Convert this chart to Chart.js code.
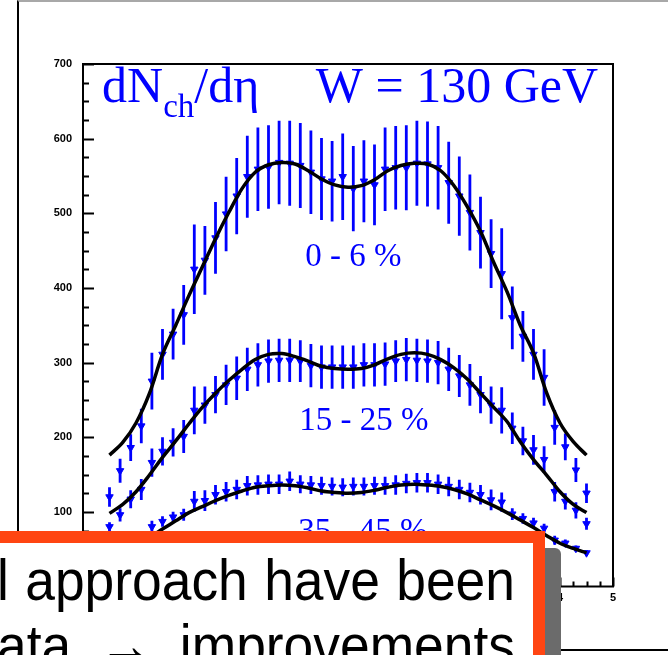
<!DOCTYPE html>
<html>
<head>
<meta charset="utf-8">
<script src="https://cdn.jsdelivr.net/npm/chart.js@4.4.0/dist/chart.umd.min.js"></script>
<style>
  html, body { margin: 0; padding: 0; background: #fff; overflow: hidden; }
  #wrap { position: relative; width: 668px; height: 655px; overflow: hidden; }
  #chart { position: absolute; left: 0; top: 0; }
  #border { position: absolute; left: 17px; top: 0; width: 700px; height: 651px; box-sizing: border-box;
            border-left: 2px solid #000; border-top: 2px solid #a8a8a8; border-bottom: 2px solid #000; }
  #shadow { position: absolute; left: -30px; top: 548px; width: 591px; height: 200px; background: #6b6b6b; border-radius: 6px; }
  #note { position: absolute; left: -30px; top: 531px; width: 575px; height: 200px; box-sizing: border-box;
          border: 12px solid #ff4512; background: #fff; overflow: hidden; }
  .line { position: absolute; left: 15px; width: 563px; font-family: "Liberation Sans", Arial, sans-serif;
          font-size: 58px; line-height: 58px; white-space: nowrap; text-align: justify; text-align-last: justify;
          transform-origin: left top; transform: scaleX(0.92); color: #000; }
</style>
</head>
<body>
<div id="wrap">
  <div id="border"></div>
  <canvas id="chart" width="668" height="655"></canvas>
  <div id="shadow"></div>
  <div id="note">
    <div class="line" style="top:8px">l approach have been</div>
    <div class="line" style="top:73px">ata &rarr; improvements</div>
  </div>
</div>
<script>
"use strict";

const blue = "#0000ff";

// pseudorapidity bin centres
const eta = [-4.5, -4.3, -4.1, -3.9, -3.7, -3.5, -3.3, -3.1, -2.9, -2.7, -2.5, -2.3, -2.1, -1.9, -1.7, -1.5,
  -1.3, -1.1, -0.9, -0.7, -0.5, -0.3, -0.1, 0.1, 0.3, 0.5, 0.7, 0.9, 1.1, 1.3, 1.5, 1.7, 1.9, 2.1, 2.3,
  2.5, 2.7, 2.9, 3.1, 3.3, 3.5, 3.7, 3.9, 4.1, 4.3, 4.5];

// dN/deta, 0-6 % centrality
const cent0to6 = [120, 155, 186, 215, 275, 311, 338, 364, 425, 437, 467, 499, 523, 549, 559, 562,
  568, 567, 564, 555, 546, 543, 549, 533, 543, 538, 559, 561, 561, 567, 566, 561, 541, 523, 501,
  474, 446, 419, 360, 335, 311, 280, 213, 187, 156, 125];
const err0to6 = [13, 16, 18, 23, 38, 34, 34, 40, 60, 46, 48, 50, 51, 55, 56, 56,
  56, 57, 57, 56, 55, 54, 58, 57, 55, 54, 56, 56, 57, 57, 57, 56, 55, 53, 51,
  48, 46, 61, 42, 34, 34, 38, 23, 18, 16, 13];

// dN/deta, 15-25 % centrality
const cent15to25 = [80, 96, 117, 130, 166, 181, 193, 201, 236, 243, 257, 270, 279, 291, 297, 302,
  303, 303, 302, 296, 294, 294, 294, 294, 297, 297, 298, 302, 304, 303, 302, 300, 291, 282, 270,
  257, 243, 236, 212, 195, 183, 170, 127, 114, 102, 84];
const err15to25 = [6, 9, 12, 14, 19, 19, 19, 22, 32, 25, 25, 27, 29, 29, 29, 29,
  29, 29, 28, 29, 29, 29, 29, 29, 29, 29, 29, 28, 29, 29, 29, 29, 29, 28, 28,
  25, 25, 31, 21, 19, 20, 18, 13, 11, 11, 8];

// dN/deta, 35-45 % centrality
const cent35to45 = [45, 51, 58, 62, 80, 87, 93, 96, 114, 115, 123, 127, 130, 135, 136, 137,
  137, 141, 137, 136, 135, 134, 133, 134, 134, 135, 135, 136, 138, 139, 139, 137, 134, 130, 126,
  123, 116, 113, 97, 91, 85, 78, 62, 58, 51, 45];
const err35to45 = [4, 4, 5, 6, 8, 7, 7, 8, 14, 14, 13, 13, 13, 13, 13, 13,
  13, 13, 12, 12, 12, 12, 12, 12, 12, 12, 12, 13, 13, 13, 13, 13, 13, 13, 13,
  13, 14, 13, 8, 7, 7, 6, 6, 5, 4, 4];

// fitted curves, sampled every quarter unit of eta
const fitEta = [-4.5, -4.25, -4.0, -3.75, -3.5, -3.25, -3.0, -2.75, -2.5, -2.25, -2.0, -1.75, -1.5,
  -1.25, -1.0, -0.75, -0.5, -0.25, 0, 0.25, 0.5, 0.75, 1.0, 1.25, 1.5, 1.75, 2.0, 2.25, 2.5,
  2.75, 3.0, 3.25, 3.5, 3.75, 4.0, 4.25, 4.5];
const fit0to6 = [176, 193, 219, 258, 311, 350, 390, 428, 466, 501, 533, 555, 565,
  568, 566, 557, 546, 538, 535, 537, 545, 557, 564, 567, 566, 557, 537, 509, 476,
  434, 395, 350, 313, 259, 219, 194, 176];
const fit15to25 = [98, 110, 127, 149, 173, 195, 218, 240, 259, 276, 291, 304, 311,
  312, 308, 302, 295, 292, 291, 292, 297, 305, 311, 313, 311, 304, 293, 278, 259,
  240, 221, 194, 170, 149, 127, 110, 99];
const fit35to45 = [45, 50, 57, 66, 77, 88, 99, 107, 115, 122, 128, 133, 135,
  136, 135, 132, 128, 126, 125, 126, 129, 133, 136, 137, 136, 134, 130, 124, 116,
  108, 99, 89, 79, 68, 58, 51, 45];

// axis ranges
const etaRange = [-5, 5];
const yRange = [0, 700];

// in-plot labels: [text, eta, value]
const classLabels = [
  ["0 - 6 %", 0.1, 429],
  ["15 - 25 %", 0.3, 210],
  ["35 - 45 %", 0.28, 61]
];
const titleLeft = [-4.64, 649];
const titleRight = [4.72, 649];

function toXY(xs, ys) {
  return xs.map((v, i) => ({ x: v, y: ys[i] }));
}

function pointSet(label, values, errors) {
  return {
    label: label,
    data: toXY(eta, values),
    errors: errors,
    showLine: false,
    pointStyle: "triangle",
    rotation: 180,
    pointRadius: 4.3,
    backgroundColor: blue,
    borderColor: blue,
    borderWidth: 1,
    order: 1
  };
}

function fitSet(label, values) {
  return {
    label: label,
    data: toXY(fitEta, values),
    showLine: true,
    pointRadius: 0,
    borderColor: "#000",
    borderWidth: 3.5,
    tension: 0.35,
    fill: false,
    order: 0
  };
}

// vertical error bars under the markers
const errorBars = {
  id: "errorBars",
  beforeDatasetsDraw(chart) {
    const { ctx, chartArea, scales: { x, y } } = chart;
    ctx.save();
    ctx.beginPath();
    ctx.rect(chartArea.left, chartArea.top, chartArea.width, chartArea.height);
    ctx.clip();
    ctx.strokeStyle = blue;
    ctx.lineWidth = 2.8;
    chart.data.datasets.forEach(ds => {
      if (!ds.errors) return;
      ds.data.forEach((p, i) => {
        const px = x.getPixelForValue(p.x);
        ctx.beginPath();
        ctx.moveTo(px, y.getPixelForValue(p.y - ds.errors[i]));
        ctx.lineTo(px, y.getPixelForValue(p.y + ds.errors[i]));
        ctx.stroke();
      });
    });
    ctx.restore();
  }
};

// frame with inward ticks, plus the text inside the plot
const frameAndText = {
  id: "frameAndText",
  afterDatasetsDraw(chart) {
    const { ctx, chartArea: a, scales: { x, y } } = chart;
    ctx.save();
    ctx.strokeStyle = "#000";
    ctx.lineWidth = 2;
    ctx.strokeRect(a.left, a.top, a.right - a.left, a.bottom - a.top);

    ctx.beginPath();
    for (let v = yRange[0]; v <= yRange[1]; v += 25) {
      const py = Math.round(y.getPixelForValue(v)) + 0.5;
      const len = v % 100 === 0 ? 11 : 6;
      ctx.moveTo(a.left, py);
      ctx.lineTo(a.left + len, py);
    }
    for (let k = 0; k <= 40; k++) {
      const v = etaRange[0] + k * 0.25;
      const px = Math.round(x.getPixelForValue(v)) + 0.5;
      const len = k % 4 === 0 ? 9 : 5;
      ctx.moveTo(px, a.bottom);
      ctx.lineTo(px, a.bottom - len);
    }
    ctx.stroke();

    ctx.fillStyle = blue;
    ctx.textBaseline = "alphabetic";

    // dN_ch/deta
    let tx = x.getPixelForValue(titleLeft[0]);
    const ty = y.getPixelForValue(titleLeft[1]);
    ctx.textAlign = "left";
    ctx.font = '50px "Liberation Serif"';
    ctx.fillText("dN", tx, ty);
    tx += ctx.measureText("dN").width;
    ctx.font = '33px "Liberation Serif"';
    ctx.fillText("ch", tx, ty + 15);
    tx += ctx.measureText("ch").width;
    ctx.font = '50px "Liberation Serif"';
    ctx.fillText("/dη", tx, ty);

    ctx.textAlign = "right";
    ctx.fillText("W = 130 GeV", x.getPixelForValue(titleRight[0]), y.getPixelForValue(titleRight[1]));

    ctx.textAlign = "center";
    ctx.font = '33px "Liberation Serif"';
    classLabels.forEach(([t, e, v]) => {
      ctx.fillText(t, x.getPixelForValue(e), y.getPixelForValue(v));
    });
    ctx.restore();
  }
};

const tickFont = { family: '"Liberation Sans", Arial, sans-serif', weight: "bold", size: 11 };

new Chart(document.getElementById("chart"), {
  type: "scatter",
  data: {
    datasets: [
      pointSet("0-6%", cent0to6, err0to6),
      pointSet("15-25%", cent15to25, err15to25),
      pointSet("35-45%", cent35to45, err35to45),
      fitSet("fit 0-6%", fit0to6),
      fitSet("fit 15-25%", fit15to25),
      fitSet("fit 35-45%", fit35to45)
    ]
  },
  options: {
    responsive: false,
    animation: false,
    events: [],
    layout: { padding: { top: 64, right: 55, bottom: 38.5, left: 0 } },
    plugins: { legend: { display: false }, tooltip: { enabled: false } },
    scales: {
      x: {
        type: "linear",
        min: etaRange[0],
        max: etaRange[1],
        afterFit: s => { s.height = 30; },
        grid: { display: false, drawTicks: false },
        border: { display: false },
        ticks: { stepSize: 1, padding: 5, color: "#000", font: tickFont, maxRotation: 0, autoSkip: false }
      },
      y: {
        type: "linear",
        min: yRange[0],
        max: yRange[1],
        afterFit: s => { s.width = 83; },
        grid: { display: false, drawTicks: false },
        border: { display: false },
        ticks: { stepSize: 100, padding: 11, color: "#000", font: tickFont }
      }
    }
  },
  plugins: [errorBars, frameAndText]
});
</script>
</body>
</html>
